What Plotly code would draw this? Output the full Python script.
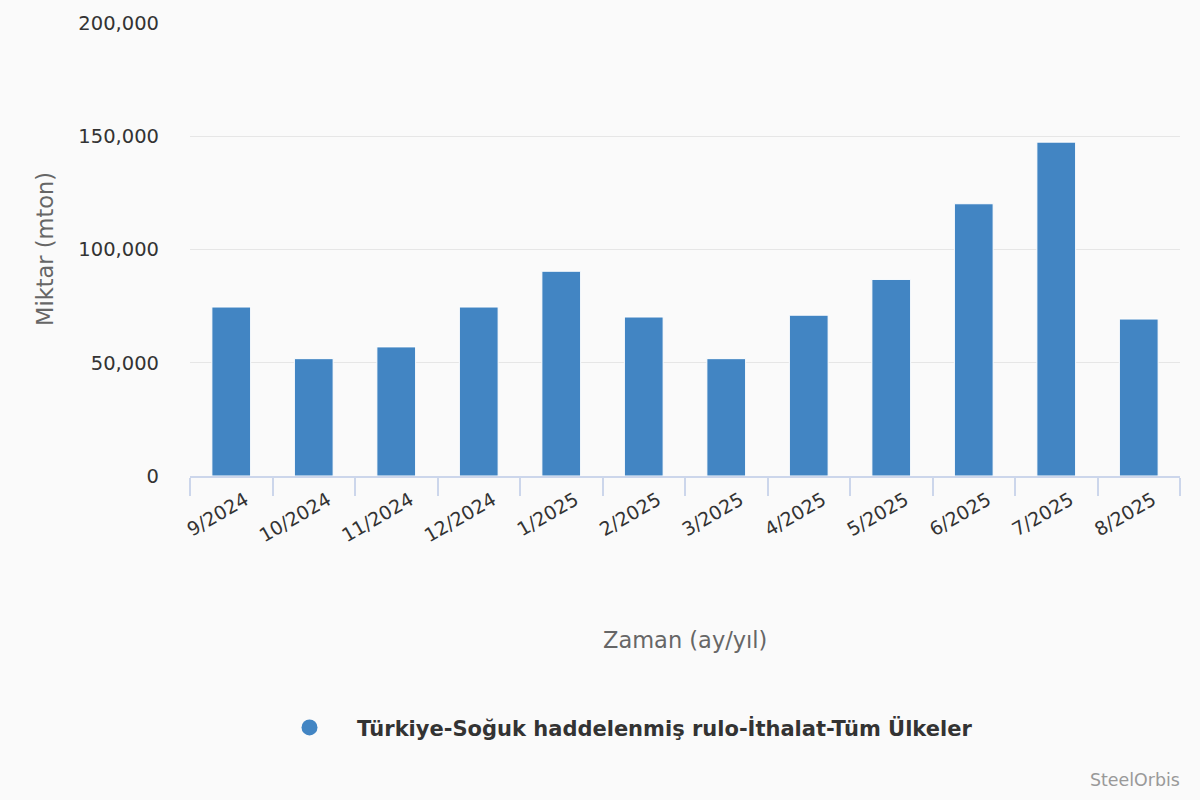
import plotly.graph_objects as go

categories = ["9/2024", "10/2024", "11/2024", "12/2024", "1/2025", "2/2025",
              "3/2025", "4/2025", "5/2025", "6/2025", "7/2025", "8/2025"]
values = [74600, 51800, 57000, 74600, 90400, 70200,
          51800, 71000, 86800, 120200, 147400, 69300]
series_name = "Türkiye-Soğuk haddelenmiş rulo-İthalat-Tüm Ülkeler"
y_ticks = [0, 50000, 100000, 150000, 200000]

bar_color = "#4285C3"
bg = "#FAFAFA"
font_family = "DejaVu Sans"

L, R, T, B = 190, 20, 19, 324
PW, PH = 1200 - L - R, 800 - T - B


def px_x(px):
    return (px - L) / PW


def px_y(py):
    return (800 - B - py) / PH


fig = go.Figure()
fig.add_trace(go.Bar(
    x=categories, y=values, name=series_name,
    marker=dict(color=bar_color, line=dict(color="#FFFFFF", width=1)),
    width=0.47, showlegend=False,
))
fig.add_trace(go.Scatter(
    x=[categories[0]], y=[None], mode="markers", name=series_name,
    marker=dict(color=bar_color, size=20, symbol="circle"),
    showlegend=True, hoverinfo="skip",
))

fig.update_layout(
    width=1200, height=800,
    margin=dict(l=L, r=R, t=T, b=B),
    paper_bgcolor=bg, plot_bgcolor=bg,
    font=dict(family=font_family, color="#333333"),
    showlegend=True,
    legend=dict(
        orientation="h", x=px_x(262), xanchor="left", y=px_y(730), yanchor="middle",
        font=dict(family=font_family, size=21, color="#333333", weight="bold"),
        itemwidth=85, bgcolor="rgba(0,0,0,0)",
    ),
    xaxis=dict(
        type="category", tickangle=-30, range=[-0.5, len(categories) - 0.5],
        tickfont=dict(family=font_family, size=19, color="#333333"),
        showline=True, linecolor="#CCD6EB", linewidth=1.5,
        ticks="outside", tickson="boundaries", ticklen=18, tickcolor="#CCD6EB", tickwidth=1.5,
        showgrid=False, ticklabelshift=14, ticklabelstandoff=4,
    ),
    yaxis=dict(
        range=[0, 200000], tickvals=y_ticks, tickformat=",d",
        tickfont=dict(family=font_family, size=19.5, color="#333333"),
        showgrid=True, gridcolor="#E6E6E6", gridwidth=1,
        zeroline=False, showline=False, ticklabelstandoff=30,
    ),
    annotations=[
        dict(text="Miktar (mton)", textangle=-90, x=px_x(45), xref="paper", xanchor="center",
             y=px_y(247), yref="paper", yanchor="middle", showarrow=False,
             font=dict(family=font_family, size=22.5, color="#666666")),
        dict(text="Zaman (ay/yıl)", x=0.5, xref="paper", xanchor="center",
             y=px_y(641), yref="paper", yanchor="middle", showarrow=False,
             font=dict(family=font_family, size=22.5, color="#666666")),
        dict(text="SteelOrbis", x=px_x(1182), xref="paper", xanchor="right",
             y=px_y(783), yref="paper", yanchor="middle", showarrow=False,
             font=dict(family=font_family, size=17.4, color="#999999")),
    ],
)

fig.write_html(
    "out.html",
    config={"displayModeBar": False},
    post_script="document.body.style.margin='0';document.body.style.background='#FAFAFA';",
)
